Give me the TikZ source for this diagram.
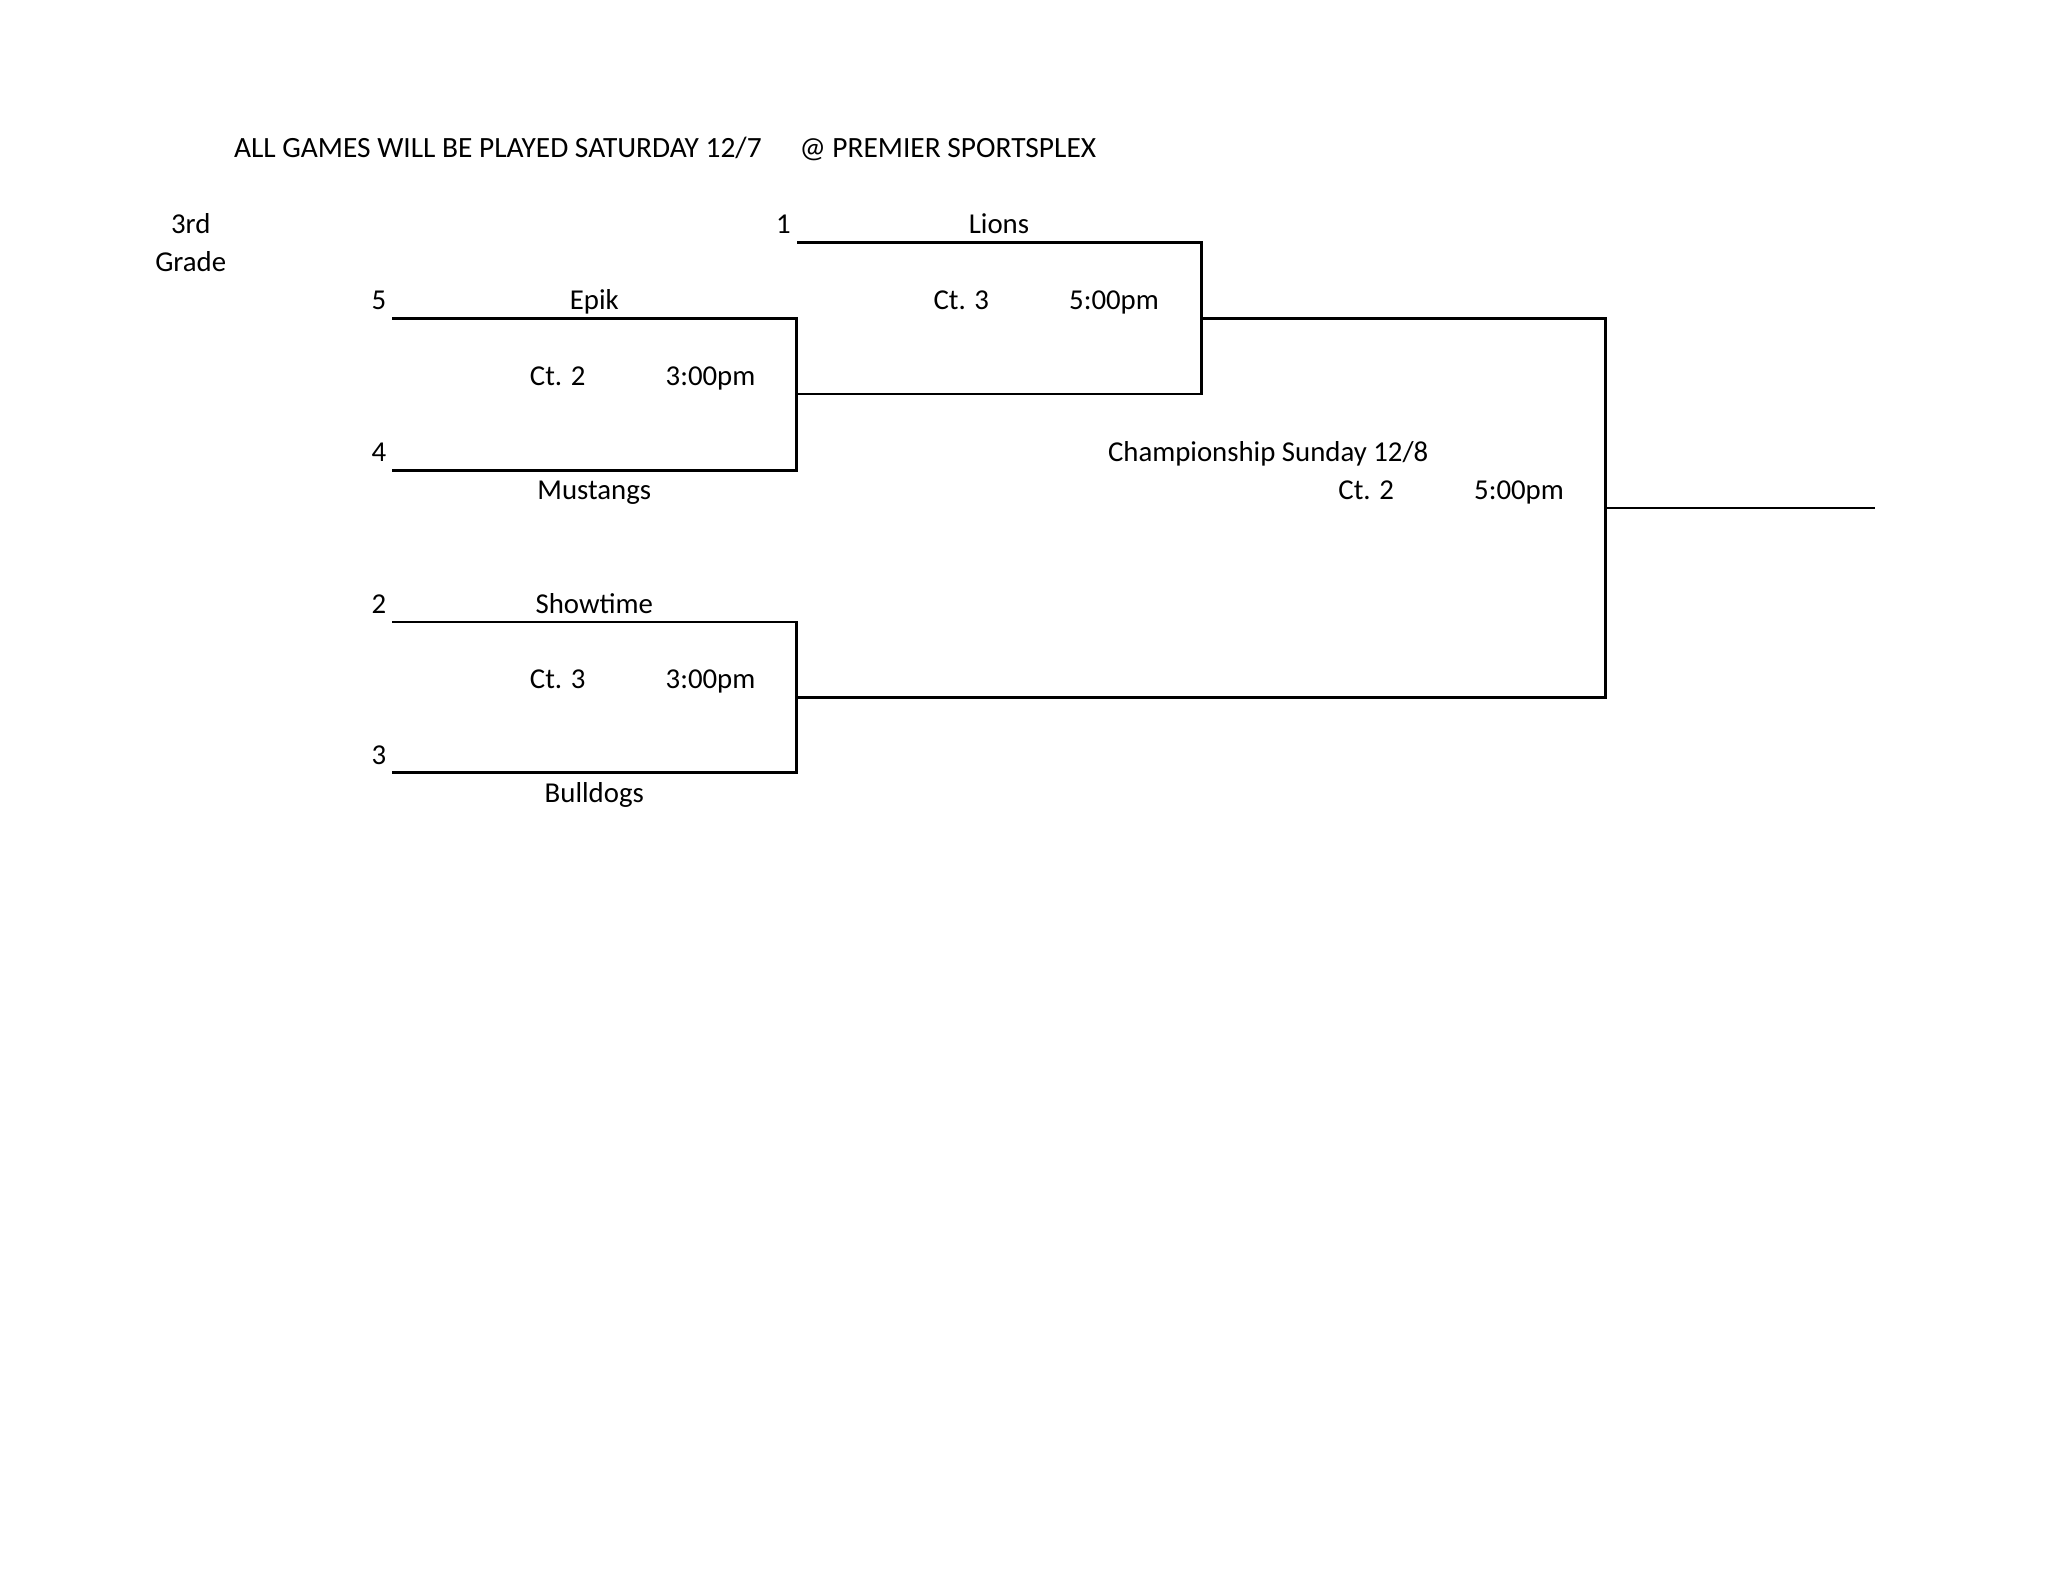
\documentclass[tikz,border=0pt]{standalone}
\usepackage{fontspec}
\setmainfont{Carlito}
\begin{document}
\begin{tikzpicture}[x=1pt,y=-1pt,
  txt/.style={inner sep=0pt, anchor=base, font=\fontsize{28.8}{34}\selectfont},
  txtw/.style={inner sep=0pt, anchor=base west, font=\fontsize{29.4}{34}\selectfont},
  ln/.style={line width=2.8pt, line join=miter, draw=black}]
\useasboundingbox[fill=white] (0,0) rectangle (2048,1573);
% title
\node[txtw] (t1) at (233.8,157.5) {ALL GAMES WILL BE PLAYED SATURDAY 12/7};
\node[txtw] (t2) at (799.3,157.5) {@ PREMIER SPORTSPLEX};
\node[txt] (g1) at (190.7,233.3) {3rd};
\node[txt] (g2) at (190.7,271.2) {Grade};
% coordinates
\coordinate (a1) at (796.7,242.3);
\coordinate (a2) at (1201.7,242.3);
\coordinate (e1) at (392.3,318.3);
\coordinate (e2) at (796.7,318.3);
\coordinate (m1) at (392.3,470.3);
\coordinate (m2) at (796.7,470.3);
\coordinate (w1) at (796.7,394);
\coordinate (w2) at (1201.7,394);
\coordinate (s1) at (392.3,622);
\coordinate (s2) at (796.7,622);
\coordinate (b1) at (392.3,772.7);
\coordinate (b2) at (796.7,772.7);
\coordinate (q1) at (796.7,697.3);
\coordinate (q2) at (1605.3,697.3);
\coordinate (f1) at (1201.7,318.3);
\coordinate (f2) at (1605.3,318.3);
\coordinate (c1) at (1605.3,508);
\coordinate (c2) at (1875,508);
% brackets
\draw[ln] (e1) -- (e2) -- (m2) -- (m1);
\draw[ln] (w1) -- (w2) -- (a2) -- (a1);
\draw[ln] (s1) -- (s2) -- (b2) -- (b1);
\draw[ln] (q1) -- (q2) -- (f2) -- (f1);
\draw[ln] (c1) -- (c2);
% labels
\node[txt] (n1) at (783.5,233.3) {1};
\node[txt] (lions) at (999,233.3) {Lions};
\node[txt] (n5) at (378.8,309.1) {5};
\node[txt] (epik) at (594.3,309.1) {Epik};
\node[txt] (ct3a) at (961.3,309.1) {Ct. 3};
\node[txt] (tm5a) at (1114,309.1) {5:00pm};
\node[txt] (ct2a) at (557.7,385) {Ct. 2};
\node[txt] (tm3a) at (710.5,385) {3:00pm};
\node[txt] (n4) at (378.8,461) {4};
\node[txt] (champ) at (1268.2,461) {Championship Sunday 12/8};
\node[txt] (must) at (594.3,499) {Mustangs};
\node[txt] (ct2b) at (1366.2,499) {Ct. 2};
\node[txt] (tm5b) at (1519,499) {5:00pm};
\node[txt] (n2) at (378.8,613) {2};
\node[txt] (show) at (594.3,613) {Showtime};
\node[txt] (ct3b) at (557.7,688.5) {Ct. 3};
\node[txt] (tm3b) at (710.5,688.5) {3:00pm};
\node[txt] (n3) at (378.8,764) {3};
\node[txt] (bull) at (594.3,802) {Bulldogs};
\end{tikzpicture}
\end{document}
